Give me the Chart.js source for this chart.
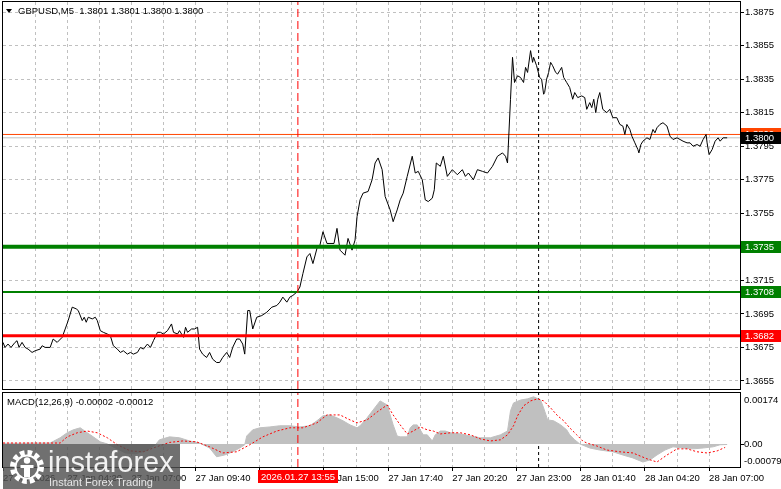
<!DOCTYPE html>
<html lang="en">
<head>
<meta charset="UTF-8">
<meta name="viewport" content="width=device-width, initial-scale=1.0">
<title>GBPUSD,M5</title>
<script src="https://cdn.jsdelivr.net/npm/chart.js"></script>
<style>
  html, body { margin: 0; padding: 0; background: #fff; }
  #wrap { position: relative; width: 781px; height: 489px; overflow: hidden; font-family: 'Liberation Sans', Arial, sans-serif; }
  #priceChart, #macdChart { position: absolute; left: 0; }
  #priceChart { top: 0; }
  #macdChart { top: 391px; }
  .label { position: absolute; font-size: 9.5px; line-height: 12px; color: #000; white-space: pre; }
  #tri { position: absolute; left: 6px; top: 9px; width: 0; height: 0; border-left: 3px solid transparent; border-right: 3px solid transparent; border-top: 4px solid #000; }
  #wm { position: absolute; left: 3px; top: 444px; width: 177px; height: 45px; background: rgba(80, 80, 80, 0.82); }
  #wm svg { position: absolute; left: 6px; top: 5px; }
  .wm-big { position: absolute; left: 45px; top: 4px; font-size: 29px; line-height: 29px; color: #f2f2f2; white-space: nowrap; }
  .wm-small { position: absolute; left: 46px; top: 33px; font-size: 11px; line-height: 11px; color: #e6e6e6; white-space: nowrap; }
</style>
</head>
<body>
<div id="wrap">
  <canvas id="priceChart" width="781" height="391"></canvas>
  <canvas id="macdChart" width="781" height="98"></canvas>
  <div id="tri"></div>
  <div class="label" style="left:18px;top:5px">GBPUSD,M5  1.3801 1.3801 1.3800 1.3800</div>
  <div class="label" style="left:7px;top:396px">MACD(12,26,9) -0.00002 -0.00012</div>
  <div id="wm">
    <svg width="36" height="36" viewBox="0 0 36 36">
      <circle cx="18" cy="18" r="14.5" fill="none" stroke="#fff" stroke-width="5" stroke-dasharray="4.6 3"/>
      <circle cx="18" cy="18" r="11.5" fill="none" stroke="#fff" stroke-width="2"/>
      <circle cx="18" cy="11.5" r="3.2" fill="#fff"/>
      <path d="M11.5 16 h13 v3 h-3.5 v9 h-6 v-9 h-3.5z" fill="#fff"/>
    </svg>
    <div class="wm-big">instaforex</div>
    <div class="wm-small">Instant Forex Trading</div>
  </div>
</div>
<script>
  // M5 bars, bar 0 = 27 Jan 01:40
  const xLabels = ['27 Jan 2026', '27 Jan 04:20', '27 Jan 07:00', '27 Jan 09:40', '27 Jan 12:20', '27 Jan 15:00',
                   '27 Jan 17:40', '27 Jan 20:20', '27 Jan 23:00', '28 Jan 01:40', '28 Jan 04:20', '28 Jan 07:00'];
  const yTicks = [1.3655, 1.3675, 1.3695, 1.3715, 1.3735, 1.3755, 1.3775, 1.3795, 1.3815, 1.3835, 1.3855, 1.3875];

  const priceBars = [
    0, 1, 2.5, 4, 6, 7, 8, 9.5, 11, 12.5,
    14.5, 16, 18.5, 19.5, 21, 23.5, 25, 27, 29.5, 31,
    32.5, 34.5, 36.5, 37.5, 39.5, 40.5, 41.5, 42.5, 44.5, 46,
    47, 48.5, 50, 52, 53.5, 55, 57, 58.5, 60, 62,
    63.5, 65, 67, 68.5, 70, 72, 73.5, 75, 77, 78.5,
    80, 82, 84, 85, 87, 88, 90, 91, 92, 94,
    95.5, 97, 98, 99.5, 101.5, 103, 104.5, 106.5, 108, 109.5,
    111.5, 113, 114.5, 116.5, 118, 119.5, 120.5, 122, 123, 124.5,
    126.5, 129, 131.5, 134, 136.5, 138, 139.5, 141.5, 143, 144.5,
    146.5, 148, 149.5, 151.5, 153, 154.5, 156.5, 158, 159.5, 161.5,
    163, 165, 166.5, 168, 170.5, 172, 174, 175.5, 176.5, 178,
    179.5, 182, 184, 185.5, 187, 189, 190.5, 193, 194.5, 196.5,
    198, 199.5, 201.5, 204, 205.5, 207, 209, 210.5, 212, 214,
    215, 216, 218, 219.5, 221.5, 224, 226.5, 229, 230.5, 232,
    234.5, 236.5, 239, 241.5, 244, 246.5, 249, 250.5, 251.5, 253,
    254, 255, 256.5, 258, 259.5, 260.5, 261.5, 263, 264, 264.5,
    266, 267.5, 268.5, 269.5, 270, 271, 272, 273, 274, 275.5,
    276.5, 277.5, 278.5, 279.5, 281, 282.5, 284, 285, 286.5, 288.5,
    290, 291, 292.5, 293.5, 294.5, 295.5, 296.5, 297.5, 299, 301,
    302.5, 304, 306, 307.5, 309, 310, 311, 312.5, 313.5, 315,
    316.5, 317, 318, 319, 321, 322.5, 324, 325, 326, 327.5,
    329, 331, 332.5, 334, 336, 337.5, 339, 341, 342.5, 344,
    346, 347.5, 349, 350.5, 351, 352, 353.5, 355, 356.5, 357.5,
    359, 361
  ];
  const priceVals = [
    1.3678, 1.3675, 1.3677, 1.3675, 1.3678, 1.3679, 1.3675, 1.3678, 1.3675, 1.3674,
    1.3672, 1.3673, 1.3674, 1.3676, 1.3675, 1.3675, 1.3680, 1.3678, 1.3681, 1.3686,
    1.3691, 1.3699, 1.3698, 1.3697, 1.3691, 1.3693, 1.3690, 1.3693, 1.3692, 1.3693,
    1.3691, 1.3685, 1.3684, 1.3683, 1.3682, 1.3676, 1.3674, 1.3672, 1.3673, 1.3671,
    1.3672, 1.3671, 1.3672, 1.3675, 1.3674, 1.3677, 1.3675, 1.3679, 1.3684, 1.3684,
    1.3683, 1.3685, 1.3689, 1.3684, 1.3683, 1.3685, 1.3681, 1.3687, 1.3684, 1.3686,
    1.3686, 1.3687, 1.3674, 1.3671, 1.3669, 1.3672, 1.3668, 1.3666, 1.3666, 1.3669,
    1.3672, 1.3669, 1.3675, 1.3680, 1.3680, 1.3677, 1.3671, 1.3697, 1.3697, 1.3686,
    1.3693, 1.3694, 1.3696, 1.3699, 1.3700, 1.3702, 1.3705, 1.3702, 1.3705, 1.3706,
    1.3708, 1.3711, 1.3719, 1.3729, 1.3731, 1.3725, 1.3734, 1.3736, 1.3744, 1.3737,
    1.3737, 1.3737, 1.3746, 1.3733, 1.3730, 1.3740, 1.3733, 1.3739, 1.3753, 1.3763,
    1.3767, 1.3768, 1.3775, 1.3785, 1.3788, 1.3781, 1.3765, 1.3757, 1.3750, 1.3757,
    1.3763, 1.3767, 1.3777, 1.3789, 1.3779, 1.3780, 1.3775, 1.3763, 1.3762, 1.3764,
    1.3769, 1.3785, 1.3783, 1.3789, 1.3777, 1.3781, 1.3778, 1.3781, 1.3777, 1.3779,
    1.3775, 1.3781, 1.3780, 1.3779, 1.3783, 1.3789, 1.3791, 1.3789, 1.3785, 1.3823,
    1.3848, 1.3833, 1.3837, 1.3836, 1.3833, 1.3842, 1.3839, 1.3852, 1.3845, 1.3848,
    1.3843, 1.3836, 1.3835, 1.3826, 1.3827, 1.3835, 1.3839, 1.3845, 1.3843, 1.3839,
    1.3838, 1.3840, 1.3842, 1.3836, 1.3833, 1.3830, 1.3823, 1.3827, 1.3824, 1.3825,
    1.3824, 1.3817, 1.3821, 1.3818, 1.3823, 1.3815, 1.3823, 1.3827, 1.3817, 1.3815,
    1.3817, 1.3812, 1.3812, 1.3808, 1.3807, 1.3802, 1.3808, 1.3805, 1.3801, 1.3797,
    1.3793, 1.3791, 1.3796, 1.3798, 1.3800, 1.3799, 1.3805, 1.3803, 1.3806, 1.3808,
    1.3809, 1.3807, 1.3801, 1.3799, 1.3800, 1.3799, 1.3798, 1.3797, 1.3797, 1.3795,
    1.3796, 1.3795, 1.3799, 1.3802, 1.3797, 1.3790, 1.3793, 1.3798, 1.3800, 1.3798,
    1.3800, 1.3800
  ];

  const levelVals = [1.3735, 1.3708, 1.3682];
  const bidPrice = 1.3800;
  const askPrice = 1.3802;
  const markBars = [147, 267];          // selected bar (13:55) and period mark
  const selectedTime = '2026.01.27 13:55';

  const macdBars = [
    0, 8.5, 16, 23.5, 28.5, 32, 35, 38.5, 42, 45,
    48.5, 52, 56, 61, 66, 71, 76, 78, 83, 88,
    93, 98, 103, 106.5, 110.5, 114.5, 118, 120.5, 121.5, 124.5,
    128, 133, 138, 143, 148, 153, 156.5, 159.5, 163, 166.5,
    169.5, 173, 176.5, 178, 181.5, 184.5, 188, 191.5, 194.5, 196.5,
    198, 201.5, 203, 204.5, 206.5, 208, 209.5, 211.5, 214, 215.5,
    218, 220.5, 223, 228, 233, 238, 243, 248, 251.5, 253,
    254.5, 258, 261.5, 264.5, 268, 269.5, 271.5, 274.5, 278, 281,
    282.5, 285, 287.5, 292.5, 297.5, 304, 309, 314, 319, 322.5,
    326, 330, 334, 339, 344, 349, 354, 357.5, 361
  ];
  const macdVals = [
    0.00002, 0.00002, 0.00003, 0.00003, 0.00021, 0.00038, 0.00048, 0.00055, 0.00038, 0.00024,
    0.00007, 0, -0.00014, -0.00031, -0.00034, -0.00024, -0.00003, 0.00014, 0.00024, 0.00021,
    0.0001, 0.00003, -0.00014, -0.00044, -0.00038, -0.00027, -0.00014, -0.00003, 0.00027, 0.00048,
    0.00055, 0.00058, 0.00062, 0.00062, 0.00058, 0.00062, 0.00079, 0.00096, 0.00099, 0.00089,
    0.00079, 0.00065, 0.00055, 0.00062, 0.00089, 0.00116, 0.00147, 0.00133, 0.00065, 0.00027,
    0.00024, 0.00024, 0.00055, 0.00065, 0.00065, 0.00048, 0.00031, 0.00031, 0.0001, 0.00031,
    0.00044, 0.00044, 0.00038, 0.00034, 0.00027, 0.00021, 0.00021, 0.00031, 0.00044, 0.00113,
    0.0014, 0.0015, 0.00154, 0.00161, 0.0015, 0.00123, 0.00082, 0.00079, 0.00065, 0.00048,
    0.00031, 0.00014, 0, -0.00014, -0.00021, -0.00027, -0.00038, -0.00048, -0.00062, -0.00055,
    -0.00038, -0.00021, -0.0001, -0.00014, -0.00017, -0.00014, -0.0001, -0.00003, -0.00002
  ];
  const signalBars = [
    0, 28.5, 32, 37, 42, 47, 52, 57, 63.5, 70,
    76.5, 83, 89.5, 96.5, 103, 109.5, 116.5, 123, 129.5, 136.5,
    143, 149.5, 156.5, 161.5, 168, 173, 176.5, 181.5, 186.5, 191.5,
    193, 194.5, 198, 201.5, 204.5, 208, 211.5, 214.5, 218, 223,
    228, 233, 238, 243, 248, 251.5, 254.5, 256.5, 259.5, 263,
    266.5, 269.5, 273, 276.5, 279.5, 282.5, 286, 289, 291, 296,
    301, 307.5, 314, 321, 326, 331, 336, 341, 346, 351,
    356, 360
  ];
  const signalVals = [
    0.00003, 0.00003, 0.00024, 0.00038, 0.00044, 0.00038, 0.00021, -0.00003, -0.00024, -0.00027,
    -0.0001, 0.00005, 0.0001, 0.00007, -0.0001, -0.00031, -0.00027, -0.00003, 0.00024, 0.00044,
    0.00055, 0.00055, 0.00072, 0.00099, 0.00099, 0.00082, 0.00072, 0.00082, 0.00109, 0.00133,
    0.00116, 0.00099, 0.00065, 0.00034, 0.00044, 0.00058, 0.00048, 0.00044, 0.00034, 0.00038,
    0.00038, 0.00031, 0.00017, 0.0001, 0.00014, 0.00031, 0.00062, 0.00096, 0.0013, 0.00147,
    0.00154, 0.00147, 0.00123, 0.00096, 0.00079, 0.00055, 0.00031, 0.0001, 0.00003, -0.00007,
    -0.00021, -0.00027, -0.00031, -0.00051, -0.00062, -0.00038, -0.00017, -0.00017, -0.00027, -0.00031,
    -0.00024, -0.00012
  ];
  const macdTicks = [0.00174, 0, -0.00079];

  // axis ranges / layout
  const BAR_MAX = 367.4;
  const PRICE_MIN = 1.36502, PRICE_MAX = 1.38810;
  const MACD_MIN = -0.00079, MACD_MAX = 0.00174;
  const FONT = "'Liberation Sans', Arial, sans-serif";
  const FS = 9.5;

  const pts = (xs, ys) => xs.map((x, i) => ({ x: x, y: ys[i] }));
  const hLine = v => [{ x: 0, y: v }, { x: BAR_MAX, y: v }];
  const vLine = (b, lo, hi) => [{ x: b, y: lo }, { x: b, y: hi }];
  const base = { pointRadius: 0, pointHoverRadius: 0, tension: 0, fill: false };

  // keep the plot area fixed: no extra padding for edge labels
  const noPad = s => { s.paddingTop = 0; s.paddingBottom = 0; s.paddingLeft = 0; s.paddingRight = 0; };

  function xAxis(showLabels) {
    return {
      type: 'linear', min: 0, max: BAR_MAX, bounds: 'data',
      afterBuildTicks: s => {
        const t = [];
        for (let v = 0; v <= BAR_MAX; v += 16) t.push({ value: v });
        s.ticks = t;
      },
      ticks: {
        display: showLabels, autoSkip: false, maxRotation: 0, minRotation: 0, align: 'start', padding: 2,
        font: { family: FONT, size: FS }, color: '#000',
        callback: (v, i) => (i % 2 === 0 ? xLabels[i / 2] : '')
      },
      grid: {
        color: c => (c.index === 0 ? 'rgba(0,0,0,0)' : '#c0c0c0'),
        drawTicks: showLabels, tickLength: 4,
        tickColor: c => (c.index % 2 === 0 ? '#000' : 'rgba(0,0,0,0)')
      },
      border: { display: false, dash: [3, 3] },
      afterFit: s => { s.height = showLabels ? 22 : 2; noPad(s); }
    };
  }

  const framePlugin = {
    id: 'frame',
    afterDraw(chart) {
      const { ctx, chartArea: a } = chart;
      ctx.save();
      ctx.strokeStyle = '#000';
      ctx.lineWidth = 1;
      ctx.strokeRect(Math.round(a.left) - 0.5, Math.round(a.top) - 0.5,
                     Math.round(a.right - a.left) + 1, Math.round(a.bottom - a.top) + 1);
      ctx.restore();
    }
  };

  const priceMarkPlugin = {
    id: 'priceMarks',
    afterDraw(chart) {
      const { ctx, chartArea: a } = chart;
      const y = chart.scales.y;
      const marks = [
        { v: levelVals[0], bg: '#008000' },
        { v: levelVals[1], bg: '#008000' },
        { v: levelVals[2], bg: '#ff0000' },
        { v: askPrice, bg: '#ff4500' },
        { v: bidPrice, bg: '#000000' }
      ];
      ctx.save();
      ctx.font = FS + 'px ' + FONT;
      ctx.textBaseline = 'middle';
      ctx.textAlign = 'left';
      marks.forEach(m => {
        const py = Math.round(y.getPixelForValue(m.v));
        ctx.fillStyle = m.bg;
        ctx.fillRect(a.right + 1, py - 6, chart.width - a.right - 1, 12);
        ctx.fillStyle = '#fff';
        ctx.fillText(m.v.toFixed(4), a.right + 5, py + 0.5);
      });
      ctx.restore();
    }
  };

  const macdAxisPlugin = {
    id: 'macdAxis',
    afterDraw(chart) {
      const { ctx, chartArea: a } = chart;
      const y = chart.scales.y;
      ctx.save();
      ctx.font = FS + 'px ' + FONT;
      ctx.textBaseline = 'middle';
      ctx.textAlign = 'left';
      ctx.fillStyle = '#000';
      ctx.strokeStyle = '#000';
      ctx.lineWidth = 1;
      macdTicks.forEach(v => {
        let py = y.getPixelForValue(v);
        if (v === 0) {
          ctx.beginPath();
          ctx.moveTo(a.right, Math.round(py) + 0.5);
          ctx.lineTo(a.right + 4, Math.round(py) + 0.5);
          ctx.stroke();
        }
        // end labels sit inside the panel
        py = Math.min(Math.max(py, a.top + 7), a.bottom - 6);
        ctx.fillText(v === 0 ? '0.00' : v.toFixed(5), a.right + 4, py);
      });

      // highlighted time of the selected bar
      const px = Math.round(chart.scales.x.getPixelForValue(markBars[0]));
      const w = Math.ceil(ctx.measureText(selectedTime).width) + 6;
      ctx.fillStyle = '#ff0000';
      ctx.fillRect(px - Math.round(w / 2), a.bottom + 3, w, 13);
      ctx.fillStyle = '#fff';
      ctx.textAlign = 'center';
      ctx.fillText(selectedTime, px, a.bottom + 10);
      ctx.restore();
    }
  };

  const common = {
    responsive: false,
    animation: false,
    devicePixelRatio: 1,
    events: [],
    plugins: { legend: { display: false }, tooltip: { enabled: false } }
  };

  new Chart(document.getElementById('priceChart'), {
    type: 'line',
    data: {
      datasets: [
        { ...base, data: vLine(markBars[0], PRICE_MIN, PRICE_MAX), borderColor: '#ff0000', borderWidth: 1, borderDash: [8, 4], order: 1 },
        { ...base, data: vLine(markBars[1], PRICE_MIN, PRICE_MAX), borderColor: '#000000', borderWidth: 1, borderDash: [3, 3], order: 1 },
        { ...base, data: hLine(levelVals[0]), borderColor: '#008000', borderWidth: 4, order: 2 },
        { ...base, data: hLine(levelVals[1]), borderColor: '#008000', borderWidth: 2, order: 2 },
        { ...base, data: hLine(levelVals[2]), borderColor: '#ff0000', borderWidth: 3, order: 2 },
        { ...base, data: pts(priceBars, priceVals), borderColor: '#000000', borderWidth: 1, order: 3 },
        { ...base, data: hLine(askPrice), borderColor: '#ff4500', borderWidth: 1, order: 4 },
        { ...base, data: hLine(bidPrice), borderColor: '#c0c0c0', borderWidth: 1, order: 4 }
      ]
    },
    options: {
      ...common,
      layout: { padding: { left: 3, top: 2, right: 0, bottom: 0 } },
      scales: {
        x: xAxis(false),
        y: {
          type: 'linear', position: 'right', min: PRICE_MIN, max: PRICE_MAX, bounds: 'data',
          afterBuildTicks: s => { s.ticks = yTicks.map(v => ({ value: v })); },
          ticks: { font: { family: FONT, size: FS }, color: '#000', padding: 1, callback: v => v.toFixed(4) },
          grid: { color: '#c0c0c0', tickLength: 4, tickColor: '#000' },
          border: { display: false, dash: [3, 3] },
          afterFit: s => { s.width = 41; noPad(s); }
        }
      }
    },
    plugins: [framePlugin, priceMarkPlugin]
  });

  new Chart(document.getElementById('macdChart'), {
    type: 'line',
    data: {
      datasets: [
        { ...base, data: pts(signalBars, signalVals), borderColor: '#ff0000', borderWidth: 1, borderDash: [2, 2], order: 1 },
        { ...base, data: vLine(markBars[0], MACD_MIN, MACD_MAX), borderColor: '#ff0000', borderWidth: 1, borderDash: [8, 4], order: 2 },
        { ...base, data: pts(macdBars, macdVals), borderColor: '#c0c0c0', borderWidth: 1, backgroundColor: '#c0c0c0', fill: 'origin', order: 3 },
        { ...base, data: vLine(markBars[1], MACD_MIN, MACD_MAX), borderColor: '#000000', borderWidth: 1, borderDash: [3, 3], order: 4 }
      ]
    },
    options: {
      ...common,
      layout: { padding: { left: 3, top: 2, right: 0, bottom: 0 } },
      scales: {
        x: xAxis(true),
        y: {
          type: 'linear', position: 'right', min: MACD_MIN, max: MACD_MAX, bounds: 'data',
          ticks: { display: false },
          grid: { display: false },
          border: { display: false },
          afterFit: s => { s.width = 41; noPad(s); }
        }
      }
    },
    plugins: [framePlugin, macdAxisPlugin]
  });
</script>
</body>
</html>
